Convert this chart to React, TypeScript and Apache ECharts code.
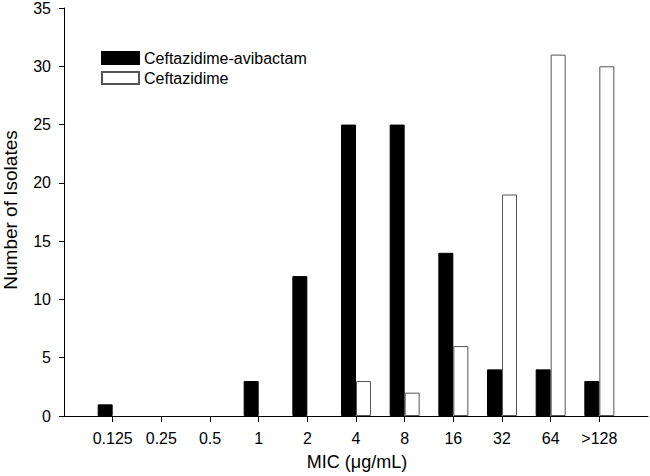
import React, { useEffect, useRef } from "react";
import * as echarts from "echarts";

const categories = ["0.125", "0.25", "0.5", "1", "2", "4", "8", "16", "32", "64", ">128"];
const ceftazidimeAvibactam = [1, 0, 0, 3, 12, 25, 25, 14, 4, 4, 3];
const ceftazidime = [0, 0, 0, 0, 0, 3, 2, 6, 19, 31, 30];
const yTicks = [0, 5, 10, 15, 20, 25, 30, 35];

const FONT = "'Liberation Sans', Arial, sans-serif";

export default function App() {
  const ref = useRef<HTMLDivElement>(null);
  useEffect(() => {
    if (!ref.current) return;
    const chart = echarts.init(ref.current, null, { renderer: "svg" });
    const positions = categories.map((_, i) => i + 1);
    const toData = (arr: number[]) => arr.map((v, i) => [positions[i], v === 0 ? null : v]);
    chart.setOption({
      animation: false,
      backgroundColor: "#ffffff",
      textStyle: { fontFamily: FONT },
      grid: { left: 64, right: 2, top: 5, bottom: 60, containLabel: false },
      legend: {
        left: 96,
        top: 45,
        orient: "vertical",
        itemWidth: 37,
        itemHeight: 12,
        itemGap: 4,
        icon: "rect",
        textStyle: { fontFamily: FONT, fontSize: 16, color: "#000" },
        data: ["Ceftazidime-avibactam", "Ceftazidime"],
      },
      xAxis: {
        type: "value",
        min: 0,
        max: 12,
        interval: 1,
        splitLine: { show: false },
        axisLine: { show: true, onZero: false, lineStyle: { color: "#000", width: 1 } },
        axisTick: {
          show: true,
          inside: false,
          length: 6,
          customValues: positions,
          lineStyle: { color: "#000" },
        },
        axisLabel: {
          customValues: positions,
          formatter: (v: number) => categories[Math.round(v) - 1] ?? "",
          margin: 14,
          fontSize: 16,
          color: "#000",
          fontFamily: FONT,
        },
      },
      yAxis: {
        type: "value",
        min: 0,
        max: 35,
        interval: 5,
        splitLine: { show: false },
        axisLine: { show: true, lineStyle: { color: "#000", width: 1 } },
        axisTick: { show: true, inside: false, length: 5, lineStyle: { color: "#000" } },
        axisLabel: {
          margin: 13,
          fontSize: 16,
          color: "#000",
          fontFamily: FONT,
          formatter: (v: number) => (yTicks.includes(v) ? String(v) : ""),
        },
      },
      graphic: [
        {
          type: "text",
          x: 357,
          y: 462,
          style: {
            text: "MIC (\u03bcg/mL)",
            fontSize: 18,
            fontFamily: FONT,
            fill: "#000",
            align: "center",
            verticalAlign: "middle",
          },
        },
        {
          type: "text",
          x: 10,
          y: 210,
          rotation: Math.PI / 2,
          style: {
            text: "Number of Isolates",
            fontSize: 19,
            fontFamily: FONT,
            fill: "#000",
            align: "center",
            verticalAlign: "middle",
          },
        },
      ],
      series: [
        {
          name: "Ceftazidime-avibactam",
          type: "bar",
          barWidth: 15,
          barGap: "0%",
          data: toData(ceftazidimeAvibactam),
          itemStyle: { color: "#000", borderColor: "#000", borderWidth: 1 },
        },
        {
          name: "Ceftazidime",
          type: "bar",
          barWidth: 15,
          barGap: "0%",
          data: toData(ceftazidime),
          itemStyle: { color: "#fff", borderColor: "#555", borderWidth: 1 },
        },
      ],
    });
    return () => chart.dispose();
  }, []);
  return <div ref={ref} style={{ width: 650, height: 476, position: "absolute", left: 0, top: 0 }} />;
}
